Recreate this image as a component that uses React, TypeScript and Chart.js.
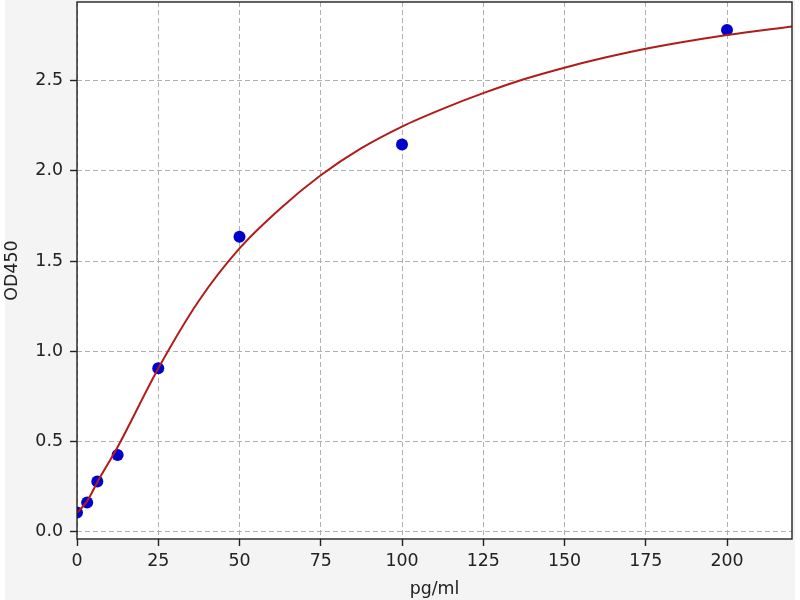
import { useEffect, useRef } from 'react';
import { Chart, registerables } from 'chart.js';

Chart.register(...registerables);

// standards (concentration, OD)
const STD_CONC = [0, 3.125, 6.25, 12.5, 25, 50, 100, 200];
const STD_OD = [0.107, 0.162, 0.279, 0.426, 0.906, 1.635, 2.145, 2.78];

// fitted curve
const FIT_CONC = [0, 3.125, 6.25, 12.5, 25, 37.5, 50, 62.5, 75, 87.5, 100, 112.5, 125, 137.5, 150, 162.5, 175, 200, 220];
const FIT_OD = [0.105, 0.17, 0.275, 0.47, 0.905, 1.28, 1.57, 1.79, 1.975, 2.125, 2.245, 2.343, 2.43, 2.507, 2.571, 2.627, 2.676, 2.752, 2.8];

const X_TICKS = [0, 25, 50, 75, 100, 125, 150, 175, 200];
const Y_TICKS = [0, 0.5, 1.0, 1.5, 2.0, 2.5];

const FONT = { family: '"DejaVu Sans", sans-serif', size: 17.4 };
const INK = '#222';
const GRID = '#b0b0b0';

const framePlugin = {
  id: 'frame',
  beforeDraw(chart: Chart) {
    const { ctx, chartArea: a } = chart;
    ctx.save();
    ctx.fillStyle = '#f4f4f4';
    ctx.fillRect(5, 0, 790, chart.height);
    ctx.fillStyle = '#fff';
    ctx.fillRect(a.left, a.top, a.right - a.left, a.bottom - a.top);
    ctx.restore();
  },
  afterDraw(chart: Chart) {
    const { ctx, chartArea: a } = chart;
    ctx.save();
    ctx.strokeStyle = INK;
    ctx.lineWidth = 1.4;
    ctx.strokeRect(a.left, a.top, a.right - a.left, a.bottom - a.top);
    ctx.restore();
  },
};

export default function App() {
  const ref = useRef<HTMLCanvasElement>(null);
  const chartRef = useRef<Chart | null>(null);

  useEffect(() => {
    if (!ref.current) return;
    document.body.style.margin = '0';

    chartRef.current?.destroy();
    chartRef.current = new Chart(ref.current, {
      type: 'scatter',
      data: {
        datasets: [
          {
            label: 'fit',
            data: FIT_CONC.map((x, i) => ({ x, y: FIT_OD[i] })),
            showLine: true,
            borderColor: '#b01c1c',
            borderWidth: 2,
            pointRadius: 0,
            cubicInterpolationMode: 'monotone',
            order: 0,
            clip: 0,
          },
          {
            label: 'standards',
            data: STD_CONC.map((x, i) => ({ x, y: STD_OD[i] })),
            backgroundColor: '#0000cc',
            borderWidth: 0,
            pointRadius: 6,
            order: 1,
            clip: 0,
          },
        ],
      },
      options: {
        responsive: false,
        animation: false,
        layout: { padding: { left: 0, top: 0, right: 8, bottom: 0 } },
        plugins: { legend: { display: false }, tooltip: { enabled: false } },
        scales: {
          x: {
            type: 'linear',
            min: 0,
            max: 220,
            afterBuildTicks: (axis) => { axis.ticks = X_TICKS.map((value) => ({ value })); },
            afterFit: (axis) => { axis.height = 61; axis.paddingLeft = 0; axis.paddingRight = 0; },
            ticks: { color: INK, font: FONT, padding: 5, callback: (v) => String(v) },
            grid: { color: GRID, lineWidth: 1, tickColor: INK, tickWidth: 1.4, tickLength: 7 },
            border: { display: false, dash: [5, 3] },
            title: { display: true, text: 'pg/ml', color: INK, font: FONT, padding: { top: 0, bottom: 0 } },
          },
          y: {
            type: 'linear',
            min: -0.04,
            max: 2.935,
            afterBuildTicks: (axis) => { axis.ticks = Y_TICKS.map((value) => ({ value })); },
            afterFit: (axis) => { axis.width = 77; axis.paddingTop = 0; axis.paddingBottom = 0; },
            ticks: { color: INK, font: FONT, padding: 7, callback: (v) => Number(v).toFixed(1) },
            grid: { color: GRID, lineWidth: 1, tickColor: INK, tickWidth: 1.4, tickLength: 7 },
            border: { display: false, dash: [5, 3] },
            title: { display: true, text: 'OD450', color: INK, font: FONT, padding: { top: 2.5, bottom: 0 } },
          },
        },
      },
      plugins: [framePlugin],
    });
    return () => { chartRef.current?.destroy(); };
  }, []);

  return (
    <div style={{ width: 800, height: 600, background: '#fff', overflow: 'hidden' }}>
      <canvas ref={ref} width={800} height={604} style={{ display: 'block', marginTop: -4 }} />
    </div>
  );
}
